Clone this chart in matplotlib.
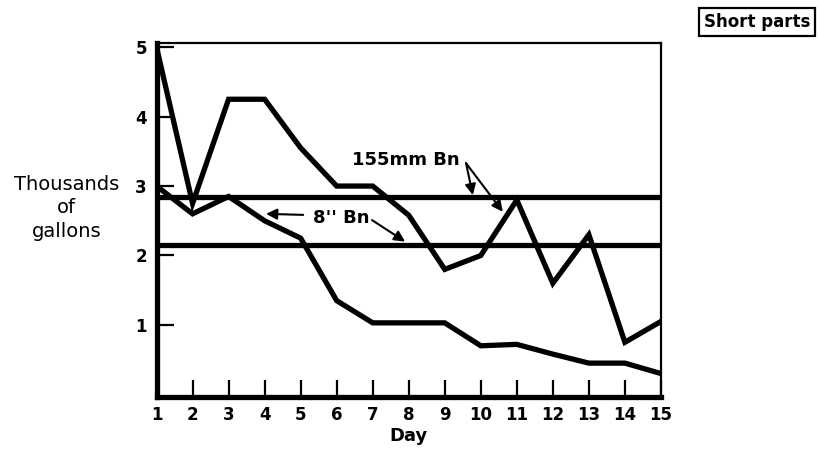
#Fuel consumption of the two battalions, short parts
import matplotlib.pyplot as plt

days = list(range(1, 16))

#daily consumption in thousands of gallons
bn_155mm = [5.0, 2.75, 4.25, 4.25, 3.55, 3.0, 3.0, 2.58, 1.8, 2.0, 2.8, 1.6, 2.3, 0.75, 1.05]
bn_8in = [3.0, 2.6, 2.85, 2.5, 2.25, 1.35, 1.03, 1.03, 1.03, 0.7, 0.72, 0.58, 0.45, 0.45, 0.3]

#reference levels drawn as horizontal lines
level_155mm = 2.84
level_8in = 2.15

x_ticks = list(range(1, 16))
y_ticks = [1, 2, 3, 4, 5]

fig = plt.figure(figsize=(8.2, 4.49), dpi=100)
ax = fig.add_axes([0.1909, 0.1147, 0.806 - 0.1909, 0.9042 - 0.1147])

lw = 3.8
ax.plot(days, bn_155mm, color='black', lw=lw, solid_joinstyle='miter')
ax.plot(days, bn_8in, color='black', lw=lw, solid_joinstyle='miter')
ax.axhline(level_155mm, color='black', lw=lw)
ax.axhline(level_8in, color='black', lw=lw)

ax.set_xlim(1, 15)
ax.set_ylim(-0.045, 5.06)

ax.set_xticks(x_ticks)
ax.set_yticks(y_ticks)
ax.set_xticklabels([str(d) for d in x_ticks], fontsize=12, fontweight='bold')
ax.set_yticklabels([str(v) for v in y_ticks], fontsize=12, fontweight='bold')
ax.tick_params(axis='both', direction='in', length=12, width=1.6, color='black')
ax.tick_params(axis='x', pad=6)
ax.tick_params(axis='y', pad=7)

ax.spines['left'].set_linewidth(3.8)
ax.spines['bottom'].set_linewidth(3.8)
ax.spines['top'].set_linewidth(1.6)
ax.spines['right'].set_linewidth(1.6)

ax.set_xlabel('Day', fontsize=13, fontweight='bold', labelpad=2)

fig.text(0.081, 0.537, 'Thousands\nof\ngallons', fontsize=14, ha='center', va='center',
         linespacing=1.3)

#labels with their arrows
arrow_style = dict(arrowstyle='-|>', color='black', lw=1.5, mutation_scale=16,
                   shrinkA=0, shrinkB=0)
ax.text(7.92, 3.38, '155mm Bn', fontsize=13, fontweight='bold', ha='center', va='center')
ax.annotate('', xy=(9.78, 2.87), xytext=(9.59, 3.33), arrowprops=arrow_style)
ax.annotate('', xy=(10.61, 2.63), xytext=(9.59, 3.33), arrowprops=arrow_style)

ax.text(6.12, 2.54, "8'' Bn", fontsize=13, fontweight='bold', ha='center', va='center')
ax.annotate('', xy=(4.04, 2.6), xytext=(5.07, 2.585), arrowprops=arrow_style)
ax.annotate('', xy=(7.9, 2.2), xytext=(6.98, 2.51), arrowprops=arrow_style)

fig.text(0.923, 0.950, 'Short parts', fontsize=12, fontweight='bold', ha='center', va='center',
         bbox=dict(boxstyle='square,pad=0.3', facecolor='white', edgecolor='black', lw=1.6))

fig.savefig('out.png', dpi=100)
